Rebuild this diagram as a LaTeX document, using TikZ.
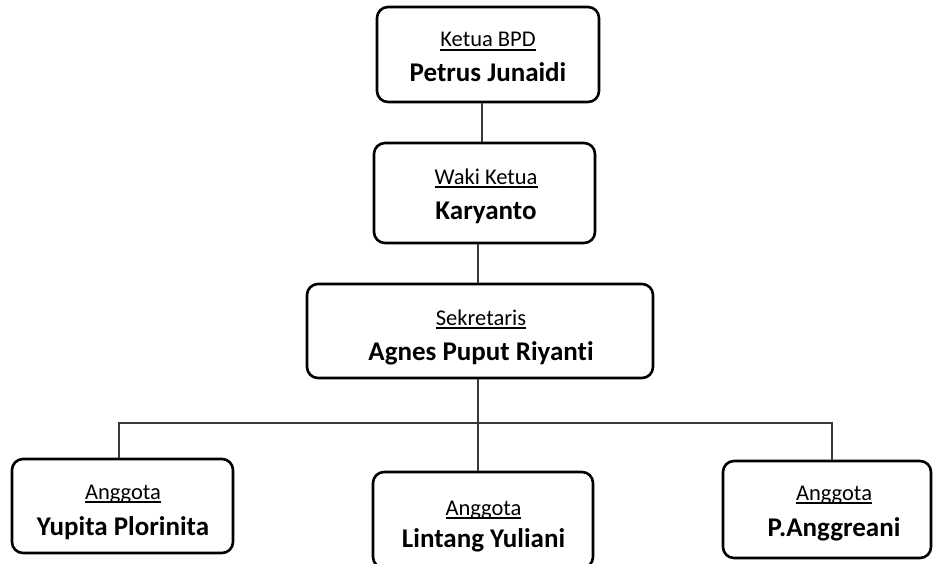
\documentclass[tikz,border=0pt]{standalone}
\usepackage{fontspec}
\setmainfont{Carlito}[Ligatures={NoCommon,NoRequired,NoContextual}]
\newcommand\ulText[1]{\setbox0\hbox{#1}\rlap{\rule[-3.8pt]{\wd0}{1.9pt}}\box0}
\begin{document}
\begin{tikzpicture}[x=1pt,y=-1pt,
  box/.style={draw=black,line width=2.6pt,rounded corners=11pt,fill=white,inner sep=0pt},
  ttl/.style={anchor=base,inner sep=0pt,font=\fontsize{22.5}{26}\selectfont},
  nm/.style={anchor=base,inner sep=0pt,font=\fontsize{27}{31}\selectfont\bfseries},
  conn/.style={draw=black!78,line width=1.5pt}]
\useasboundingbox (0,0) rectangle (933,564);
\begin{scope}
\clip (0,0) rectangle (933,564);
% connector positions
\coordinate (x12) at (482,0);
\coordinate (x23) at (478,0);
\coordinate (xl) at (119,0);
\coordinate (xr) at (832,0);
\coordinate (bus) at (0,423);
% boxes
\node[box,minimum width=222pt,minimum height=95pt] (b1) at (488,54.5) {};
\node[box,minimum width=221pt,minimum height=100pt] (b2) at (484.5,193) {};
\node[box,minimum width=346pt,minimum height=94pt] (b3) at (480,331) {};
\node[box,minimum width=221pt,minimum height=94pt] (b4) at (122.5,506) {};
\node[box,minimum width=220pt,minimum height=96pt] (b5) at (483,520) {};
\node[box,minimum width=208pt,minimum height=97pt] (b6) at (827,509.5) {};
\draw[conn] (b1.south -| x12) -- (b2.north -| x12);
\draw[conn] (b2.south -| x23) -- (b3.north -| x23);
\draw[conn] (b3.south -| x23) -- (b5.north -| x23);
\draw[conn] (b4.north -| xl) -- (bus -| xl) -- (bus -| xr) -- (b6.north -| xr);
% texts
\node[ttl] (t1) at (488,47) {\ulText{Ketua BPD}};
\node[nm]  (n1) at (488,82) {Petrus Junaidi};
\node[ttl] (t2) at (486,184) {\ulText{Waki Ketua}};
\node[nm]  (n2) at (486,219) {Karyanto};
\node[ttl] (t3) at (481,325) {\ulText{Sekretaris}};
\node[nm]  (n3) at (481,360) {Agnes Puput Riyanti};
\node[ttl] (t4) at (123,499) {\ulText{Anggota}};
\node[nm]  (n4) at (123,535) {Yupita Plorinita};
\node[ttl] (t5) at (483.5,515) {\ulText{Anggota}};
\node[nm]  (n5) at (483.5,547) {Lintang Yuliani};
\node[ttl] (t6) at (834,500) {\ulText{Anggota}};
\node[nm]  (n6) at (834,536) {P.Anggreani};
\end{scope}
\end{tikzpicture}
\end{document}
